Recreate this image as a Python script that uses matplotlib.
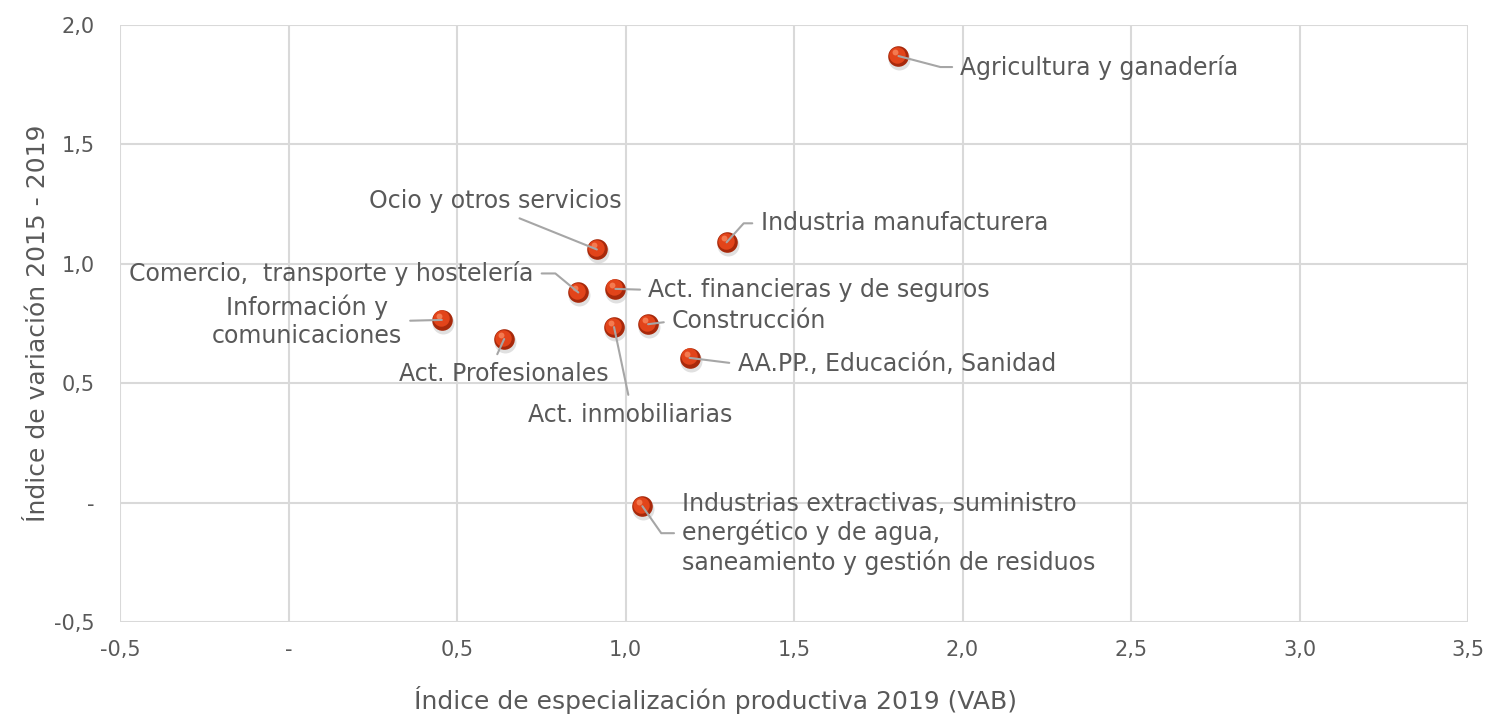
import numpy as np
import matplotlib
matplotlib.use("Agg")
import matplotlib.pyplot as plt
from matplotlib.transforms import offset_copy

# data
sectores = [
    "Agricultura y ganadería",
    "Industria manufacturera",
    "Ocio y otros servicios",
    "Comercio,  transporte y hostelería",
    "Act. financieras y de seguros",
    "Información y\ncomunicaciones",
    "Act. Profesionales",
    "Act. inmobiliarias",
    "Construcción",
    "AA.PP., Educación, Sanidad",
    "Industrias extractivas, suministro\nenergético y de agua,\nsaneamiento y gestión de residuos",
]
especializacion = [1.81, 1.30, 0.915, 0.86, 0.97, 0.455, 0.64, 0.966, 1.067, 1.19, 1.05]
variacion = [1.87, 1.09, 1.06, 0.88, 0.895, 0.765, 0.685, 0.735, 0.747, 0.606, -0.015]

ticks = [-0.5, 0.0, 0.5, 1.0, 1.5, 2.0, 2.5, 3.0, 3.5]

# label placement: offset (px), ha, relpos, connection style
label_style = [
    ((62, -11), "left", (0, 0.5), "angle,angleA=0,angleB=-14.7,rad=0"),
    ((34, 19), "left", (0, 0.5), "angle,angleA=0,angleB=48,rad=0"),
    ((-102, 48), "center", (0.55, 0.0), "arc3"),
    ((-45, 19), "right", (1, 0.5), "angle,angleA=0,angleB=-39.6,rad=0"),
    ((33, -1), "left", (0, 0.5), "arc3"),
    ((-40, -1), "right", (1, 0.5), "arc3"),
    ((0, -35), "center", (0.45, 1.0), "arc3"),
    ((16, -88), "center", (0.5, 1.0), "arc3"),
    ((24, 3), "left", (0, 0.5), "arc3"),
    ((48, -6), "left", (0, 0.5), "arc3"),
    ((40, -27), "left", (0, 0.5), "angle,angleA=0,angleB=-55,rad=0"),
]

txt = "#595959"
grid = "#d9d9d9"
plt.rcParams['font.family'] = ['DejaVu Sans']

fig = plt.figure(figsize=(14.91, 7.15), dpi=100)
ax = fig.add_axes([120/1491, 1 - 622/715, 1348/1491, 597/715])

ax.set_xlim(-0.5, 3.5)
ax.set_ylim(-0.5, 2.0)
ax.set_xticks(ticks)
ax.set_yticks(ticks[:6])

def fmt(v):
    return "-" if v == 0 else f"{v:.1f}".replace(".", ",")

ax.set_xticklabels([fmt(t) for t in ticks])
ax.set_yticklabels([fmt(t) for t in ticks[:6]])
ax.tick_params(length=0, labelsize=15, labelcolor=txt)
ax.tick_params(axis='x', pad=13)
ax.tick_params(axis='y', pad=18)
ax.grid(True, color=grid, linewidth=1.5)
ax.set_axisbelow(True)
for s in ax.spines.values():
    s.set_visible(False)

ax.set_xlabel("Índice de especialización productiva 2019 (VAB)", fontsize=18, color=txt)
ax.set_ylabel("Índice de variación 2015 - 2019", fontsize=18, color=txt)
ax.xaxis.set_label_coords(0.442, -0.108)
ax.yaxis.set_label_coords(-0.052, 0.5)

# sphere-like markers
shadow = offset_copy(ax.transData, fig=fig, x=1, y=-3, units='dots')
ax.scatter(especializacion, variacion, s=250, color="#bbbbbb", alpha=0.45,
           linewidths=0, transform=shadow, zorder=3)
ax.scatter(especializacion, variacion, s=220, color="#a8290b",
           linewidths=0, zorder=4)
inner = offset_copy(ax.transData, fig=fig, x=-1, y=1.5, units='dots')
ax.scatter(especializacion, variacion, s=140, color="#e2441a",
           linewidths=0, transform=inner, zorder=5)
hl = offset_copy(ax.transData, fig=fig, x=-3, y=4, units='dots')
ax.scatter(especializacion, variacion, s=18, color="#f47a50",
           linewidths=0, transform=hl, zorder=6)

for name, x, y, (off, ha, rp, cs) in zip(sectores, especializacion, variacion, label_style):
    ax.annotate(name, xy=(x, y), xytext=off, textcoords='offset pixels',
                ha=ha, va='center', fontsize=17, color=txt,
                multialignment='center' if ha != 'left' else 'left',
                linespacing=1.2, zorder=7,
                arrowprops=dict(arrowstyle='-', color="#a6a6a6", lw=1.5,
                                shrinkA=4, shrinkB=0, relpos=rp,
                                connectionstyle=cs))

fig.savefig("out.png", dpi=100)
